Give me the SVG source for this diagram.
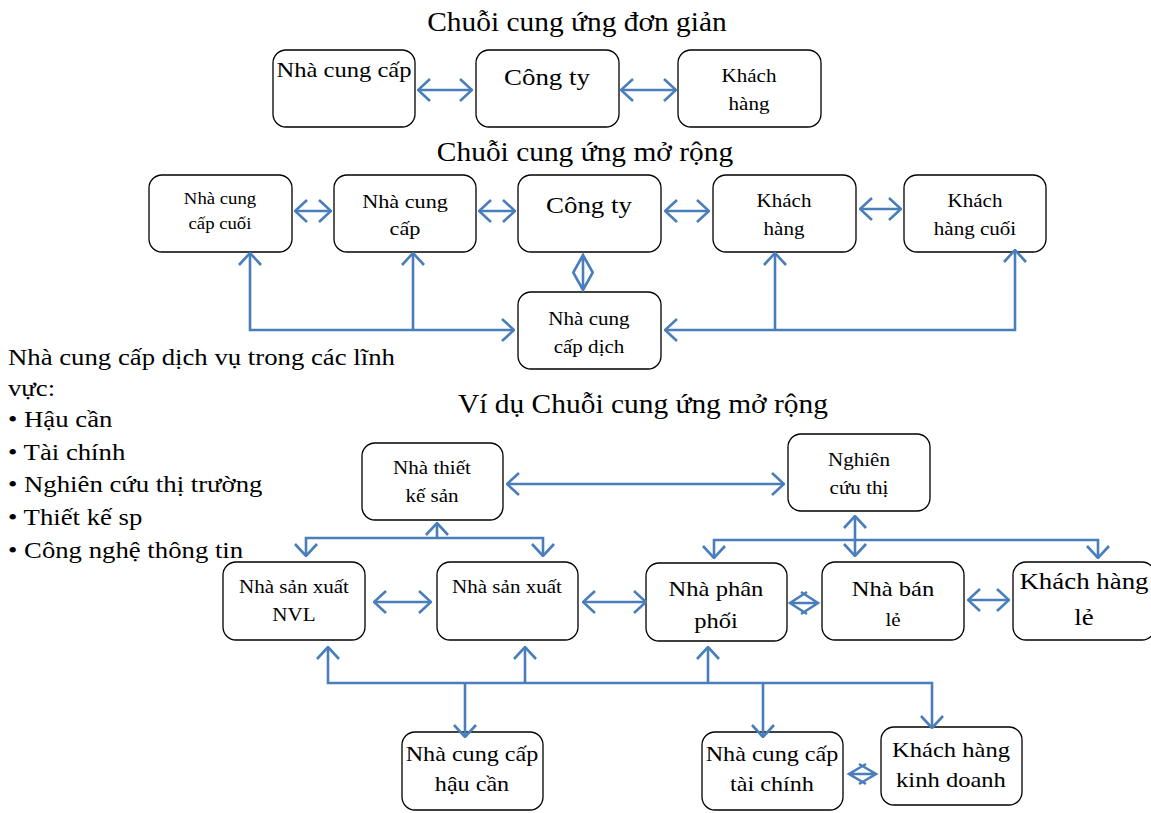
<svg xmlns="http://www.w3.org/2000/svg" width="1151" height="813" viewBox="0 0 1151 813">
<style>
.box{fill:#fff;stroke:#000;stroke-width:1.3}
.t{font-family:"Liberation Serif","Times New Roman",serif;fill:#000;text-anchor:middle}
.lt{font-family:"Liberation Serif","Times New Roman",serif;fill:#000}
.c{fill:none;stroke:#4A7EBB;stroke-width:2.6;marker-end:url(#ah)}
.d{marker-start:url(#ah)}
.p{fill:none;stroke:#4A7EBB;stroke-width:2.6}
</style>
<defs>
<marker id="ah" viewBox="0 0 14 24" refX="13" refY="12" markerWidth="14" markerHeight="24" markerUnits="userSpaceOnUse" orient="auto-start-reverse">
<path d="M1,1 L13,12 L1,23" fill="none" stroke="#4A7EBB" stroke-width="2.6"/>
</marker>
</defs>
<rect width="1151" height="813" fill="#fff"/>

<text class="t" x="577" y="31" font-size="27" transform="matrix(1.09 0 0 1 -51.93 0)">Chuỗi cung ứng đơn giản</text>
<text class="t" x="585" y="161" font-size="27" transform="matrix(1.09 0 0 1 -52.65 0)">Chuỗi cung ứng mở rộng</text>
<text class="t" x="643" y="413" font-size="27" transform="matrix(1.09 0 0 1 -57.87 0)">Ví dụ Chuỗi cung ứng mở rộng</text>

<g id="legend" class="lt" font-size="23" transform="matrix(1.163 0 0 1 -1.3 0)">
<text x="8" y="365">Nhà cung cấp dịch vụ trong các lĩnh</text>
<text x="8" y="396">vực:</text>
<text x="8" y="427">• Hậu cần</text>
<text x="8" y="460">• Tài chính</text>
<text x="8" y="492">• Nghiên cứu thị trường</text>
<text x="8" y="525">• Thiết kế sp</text>
<text x="8" y="558">•  Công nghệ thông tin</text>
</g>

<g id="n1"><rect class="box" x="273" y="50" width="142" height="77" rx="13"/><g transform="matrix(1.17 0 0 1 -58.48 0)"><text class="t" x="344" y="77" font-size="21">Nhà cung cấp</text></g></g>
<g id="n2"><rect class="box" x="476" y="50" width="143" height="77" rx="13"/><g transform="matrix(1.17 0 0 1 -92.99 0)"><text class="t" x="547" y="85" font-size="23">Công ty</text></g></g>
<g id="n3"><rect class="box" x="678" y="50" width="143" height="77" rx="13"/><g transform="matrix(1.17 0 0 1 -127.33 0)"><text class="t" x="749" y="82" font-size="18">Khách</text><text class="t" x="749" y="110" font-size="18">hàng</text></g></g>

<g id="m1"><rect class="box" x="149" y="175" width="143" height="77" rx="13"/><g transform="matrix(1.17 0 0 1 -37.4 0)"><text class="t" x="220" y="204" font-size="16">Nhà cung</text><text class="t" x="220" y="229" font-size="16">cấp cuối</text></g></g>
<g id="m2"><rect class="box" x="334" y="175" width="142" height="77" rx="13"/><g transform="matrix(1.17 0 0 1 -68.85 0)"><text class="t" x="405" y="208" font-size="19">Nhà cung</text><text class="t" x="405" y="235" font-size="19">cấp</text></g></g>
<g id="m3"><rect class="box" x="518" y="175" width="143" height="77" rx="13"/><g transform="matrix(1.17 0 0 1 -100.13 0)"><text class="t" x="589" y="213" font-size="23">Công ty</text></g></g>
<g id="m4"><rect class="box" x="713" y="175" width="143" height="77" rx="13"/><g transform="matrix(1.17 0 0 1 -133.28 0)"><text class="t" x="784" y="207" font-size="18">Khách</text><text class="t" x="784" y="235" font-size="18">hàng</text></g></g>
<g id="m5"><rect class="box" x="904" y="175" width="142" height="77" rx="13"/><g transform="matrix(1.17 0 0 1 -165.75 0)"><text class="t" x="975" y="207" font-size="18">Khách</text><text class="t" x="975" y="235" font-size="18">hàng cuối</text></g></g>
<g id="m6"><rect class="box" x="518" y="292" width="143" height="77" rx="13"/><g transform="matrix(1.17 0 0 1 -100.13 0)"><text class="t" x="589" y="325" font-size="18">Nhà cung</text><text class="t" x="589" y="353" font-size="18">cấp dịch</text></g></g>

<g id="b1"><rect class="box" x="362" y="443" width="141" height="77" rx="13"/><g transform="matrix(1.17 0 0 1 -73.44 0)"><text class="t" x="432" y="474" font-size="18">Nhà thiết</text><text class="t" x="432" y="502" font-size="18">kế sản</text></g></g>
<g id="b2"><rect class="box" x="788" y="434" width="142" height="77" rx="13"/><g transform="matrix(1.17 0 0 1 -146.03 0)"><text class="t" x="859" y="466" font-size="18">Nghiên</text><text class="t" x="859" y="494" font-size="18">cứu thị</text></g></g>
<g id="b3"><rect class="box" x="223" y="562" width="142" height="78" rx="13"/><g transform="matrix(1.17 0 0 1 -49.98 0)"><text class="t" x="294" y="593" font-size="18">Nhà sản xuất</text><text class="t" x="294" y="621" font-size="18">NVL</text></g></g>
<g id="b4"><rect class="box" x="437" y="562" width="141" height="78" rx="13"/><g transform="matrix(1.17 0 0 1 -86.19 0)"><text class="t" x="507" y="593" font-size="18">Nhà sản xuất</text></g></g>
<g id="b5"><rect class="box" x="646" y="563" width="141" height="78" rx="13"/><g transform="matrix(1.17 0 0 1 -121.72 0)"><text class="t" x="716" y="596" font-size="21">Nhà phân</text><text class="t" x="716" y="628" font-size="21">phối</text></g></g>
<g id="b6"><rect class="box" x="822" y="562" width="142" height="78" rx="13"/><g transform="matrix(1.17 0 0 1 -151.81 0)"><text class="t" x="893" y="596" font-size="21">Nhà bán</text><text class="t" x="893" y="626" font-size="18">lẻ</text></g></g>
<g id="b7"><rect class="box" x="1013" y="562" width="142" height="78" rx="13"/><g transform="matrix(1.12 0 0 1 -130.08 0)"><text class="t" x="1084" y="589" font-size="24">Khách hàng</text><text class="t" x="1084" y="625" font-size="24">lẻ</text></g></g>
<g id="b8"><rect class="box" x="402" y="732" width="141" height="78" rx="13"/><g transform="matrix(1.15 0 0 1 -70.8 0)"><text class="t" x="472" y="761" font-size="21">Nhà cung cấp</text><text class="t" x="472" y="791" font-size="21">hậu cần</text></g></g>
<g id="b9"><rect class="box" x="702" y="732" width="141" height="78" rx="13"/><g transform="matrix(1.15 0 0 1 -115.8 0)"><text class="t" x="772" y="761" font-size="21">Nhà cung cấp</text><text class="t" x="772" y="791" font-size="21">tài chính</text></g></g>
<g id="b10"><rect class="box" x="881" y="727" width="141" height="78" rx="13"/><g transform="matrix(1.17 0 0 1 -161.67 0)"><text class="t" x="951" y="757" font-size="21">Khách hàng</text><text class="t" x="951" y="787" font-size="21">kinh doanh</text></g></g>

<g id="connectors">
<path class="c d" d="M418,90 L472,90"/>
<path class="c d" d="M621,90 L676,90"/>
<path class="c d" d="M295,211 L331,211"/>
<path class="c d" d="M479,211 L515,211"/>
<path class="c d" d="M665,211 L709,211"/>
<path class="c d" d="M860,209 L901,209"/>
<path class="p" d="M583,255 L583,290 M573,273 L583,255 L593,273 M573,272 L583,290 L593,272"/>
<path class="c d" d="M250,253 L250,330 L514,330"/>
<path class="c" d="M413,330 L413,253"/>
<path class="c d" d="M1015,250 L1015,330 L665,330"/>
<path class="c" d="M775,330 L775,253"/>

<path class="c d" d="M507,484 L784,484"/>
<path class="c d" d="M306,556 L306,538 L543,538 L543,556"/>
<path class="c" d="M437,538 L437,523"/>
<path class="c d" d="M374,602 L431,602"/>
<path class="c d" d="M583,602 L646,602"/>
<path class="p" d="M790,603 L818,603 M807,592 L790,603 L807,614 M801,592 L818,603 L801,614"/>
<path class="c d" d="M968,600 L1009,600"/>
<path class="c d" d="M855,516 L855,556"/>
<path class="c d" d="M714,558 L714,540 L1098,540 L1098,558"/>
<path class="c d" d="M328,647 L328,683 L932,683 L932,728"/>
<path class="c" d="M525,683 L525,647"/>
<path class="c" d="M708,683 L708,647"/>
<path class="c" d="M465,683 L465,737"/>
<path class="c" d="M763,683 L763,737"/>
<path class="p" d="M849,774 L876,774 M866,764 L849,774 L866,784 M859,764 L876,774 L859,784"/>
</g>
</svg>
